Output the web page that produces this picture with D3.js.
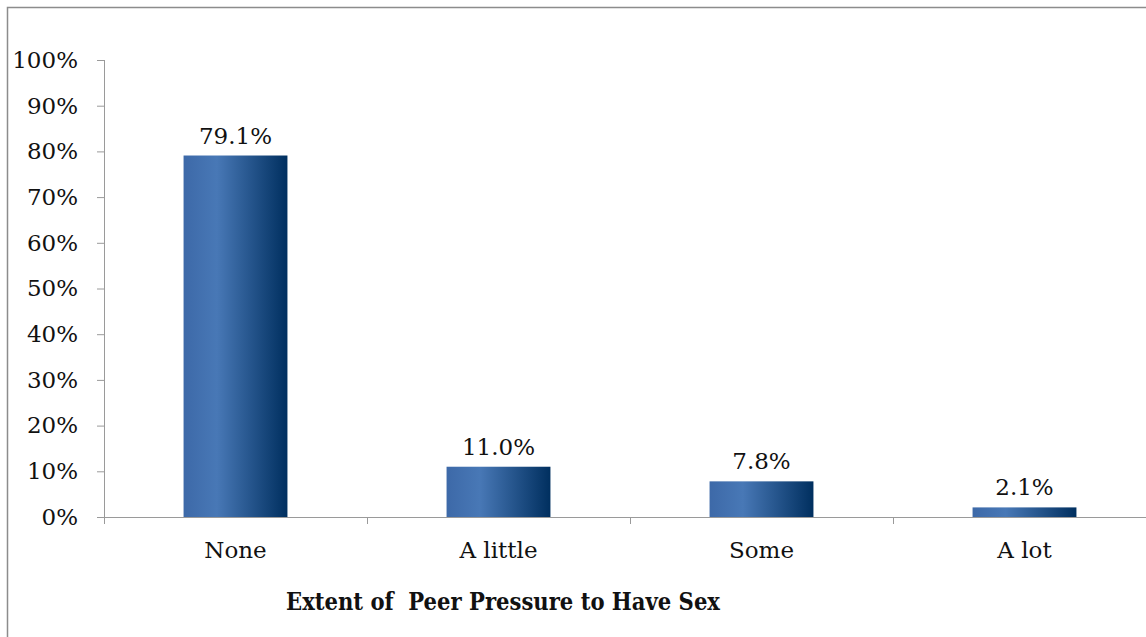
<!DOCTYPE html>
<html><head><meta charset="utf-8">
<script src="https://cdn.jsdelivr.net/npm/d3@7"></script>
<style>body{margin:0;background:#fff}svg{display:block}</style>
</head><body>
<script>
const categories = ["None", "A little", "Some", "A lot"];
const values = [79.1, 11.0, 7.8, 2.1];
const valueLabels = ["79.1%", "11.0%", "7.8%", "2.1%"];
const yTicks = [0,10,20,30,40,50,60,70,80,90,100];
const xTitle = "Extent of  Peer Pressure to Have Sex";

(function(){
const W = 1146, H = 637;
const svg = d3.select("body").append("svg").attr("width", W).attr("height", H);

const defs = svg.append("defs");
const g = defs.append("linearGradient").attr("id","barGrad").attr("x1","0").attr("x2","1").attr("y1","0").attr("y2","0");
g.append("stop").attr("offset","0%").attr("stop-color","#3d69a8");
g.append("stop").attr("offset","32%").attr("stop-color","#4878b6");
g.append("stop").attr("offset","100%").attr("stop-color","#002f5f");

svg.append("path").attr("d","M7.5,637 L7.5,7.5 L1146,7.5").attr("fill","none").attr("stroke","#8c8c8c").attr("stroke-width",1.5);

const mLeft = 104, mRight = 104 + 263*4, mTop = 60, mBottom = 517;
const x = d3.scaleBand().domain(categories).range([mLeft, mRight]).paddingInner(0.605).paddingOuter(0.3025);
const xAxisScale = d3.scaleBand().domain(categories).range([mLeft, mRight]);
const y = d3.scaleLinear().domain([0,100]).range([mBottom, mTop]);

const font = "'DejaVu Serif', serif";
const fs = 23;

const ya = svg.append("g").attr("transform",`translate(${mLeft},0)`)
  .call(d3.axisLeft(y).tickValues(yTicks).tickFormat(d=>d+"%").tickSize(7).tickPadding(19));
ya.select(".domain").attr("stroke","#9a9a9a").attr("d",`M0.5,${mTop}V${mBottom}`);
ya.selectAll(".tick line").attr("stroke","#9a9a9a");
ya.selectAll(".tick text").attr("font-family",font).attr("font-size",fs).attr("fill","#111");

svg.append("line").attr("x1",mLeft).attr("x2",W).attr("y1",mBottom+0.5).attr("y2",mBottom+0.5).attr("stroke","#9a9a9a");
const bounds = categories.map(c=>xAxisScale(c)).concat([mRight]);
svg.selectAll(".xt").data(bounds).enter().append("line")
  .attr("x1",d=>d+0.5).attr("x2",d=>d+0.5).attr("y1",mBottom).attr("y2",mBottom+7).attr("stroke","#9a9a9a");

svg.selectAll(".bar").data(values).enter().append("rect")
  .attr("x",(d,i)=>x(categories[i])).attr("width",x.bandwidth())
  .attr("y",d=>y(d)).attr("height",d=>mBottom-y(d)).attr("fill","url(#barGrad)");

svg.selectAll(".vl").data(values).enter().append("text")
  .attr("x",(d,i)=>x(categories[i])+x.bandwidth()/2).attr("y",d=>y(d)-12)
  .attr("text-anchor","middle").attr("font-family",font).attr("font-size",fs).attr("fill","#111")
  .text((d,i)=>valueLabels[i]);

svg.selectAll(".cl").data(categories).enter().append("text")
  .attr("x",d=>xAxisScale(d)+xAxisScale.bandwidth()/2).attr("y",558)
  .attr("text-anchor","middle").attr("font-family",font).attr("font-size",fs).attr("fill","#111")
  .text(d=>d);

svg.append("text").attr("x",503).attr("y",610).attr("text-anchor","middle")
  .attr("font-family","'DejaVu Serif Condensed', 'DejaVu Serif', serif").attr("font-weight","bold").attr("font-size",23.5).attr("fill","#111")
  .style("white-space","pre").text(xTitle);
})();
</script>
</body></html>
